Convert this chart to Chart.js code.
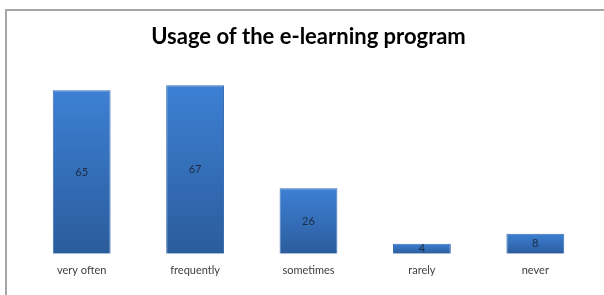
<!DOCTYPE html>
<html>
<head>
<meta charset="utf-8">
<script src="https://cdn.jsdelivr.net/npm/chart.js@4"></script>
<style>
  body { margin: 0; background: #fff; }
  #wrap { position: relative; width: 604px; height: 295px; overflow: hidden; }
  #frame {
      position: absolute; left: 5px; top: 9px; width: 640px; height: 320px;
      border-left: 2px solid #a6a6a6; border-top: 2px solid #a6a6a6;
  }
  canvas { position: absolute; left: 0; top: 0; }
</style>
</head>
<body>
<div id="wrap">
  <div id="frame"></div>
  <canvas id="barChart" width="604" height="295"></canvas>
</div>
<script>
// data
const categories = ['very often', 'frequently', 'sometimes', 'rarely', 'never'];
const counts = [65, 67, 26, 4, 8];
const yMax = 80;

// vertical gradient for each bar, light at the top, darker at the base
function barGradient(ctx) {
    const chart = ctx.chart;
    const y = chart.scales.y;
    if (!y || ctx.raw === undefined) return '#3670bd';
    const top = y.getPixelForValue(ctx.raw);
    const bottom = y.getPixelForValue(0);
    if (!isFinite(top) || !isFinite(bottom) || top === bottom) return '#3670bd';
    const g = chart.ctx.createLinearGradient(0, top, 0, bottom);
    g.addColorStop(0, '#3d80d4');
    g.addColorStop(1, '#2b5c9c');
    return g;
}

// value written in the middle of each bar
const valueLabels = {
    id: 'valueLabels',
    afterDatasetsDraw(chart) {
        const c = chart.ctx;
        const meta = chart.getDatasetMeta(0);
        c.save();
        c.font = '11px Lato';
        c.fillStyle = '#1c2b45';
        c.textAlign = 'center';
        c.textBaseline = 'middle';
        meta.data.forEach((bar, i) => {
            c.fillText(counts[i], bar.x, (bar.y + bar.base) / 2);
        });
        c.restore();
    }
};

/* ---------------------------
   BAR CHART
--------------------------- */
const barChart = new Chart(document.getElementById('barChart'), {
    type: 'bar',
    data: {
        labels: categories,
        datasets: [{
            data: counts,
            backgroundColor: barGradient,
            borderColor: '#3a6fb4',
            borderWidth: 1,
            categoryPercentage: 1,
            barPercentage: 0.51
        }]
    },
    options: {
        responsive: false,
        animation: false,
        layout: { padding: { left: 25, right: 12, top: 0, bottom: 8 } },
        scales: {
            x: {
                grid: { display: false, drawTicks: false },
                border: { display: false },
                ticks: { padding: 10, color: '#404040', font: { family: 'Lato', size: 11 } }
            },
            y: {
                display: false,
                min: 0,
                max: yMax
            }
        },
        plugins: {
            legend: { display: false },
            tooltip: { enabled: false },
            title: {
                display: true,
                text: 'Usage of the e-learning program',
                color: '#000',
                font: { family: 'Lato', size: 22, weight: 'bold' },
                padding: { top: 24, bottom: 2 }
            }
        }
    },
    plugins: [valueLabels]
});
</script>
</body>
</html>
